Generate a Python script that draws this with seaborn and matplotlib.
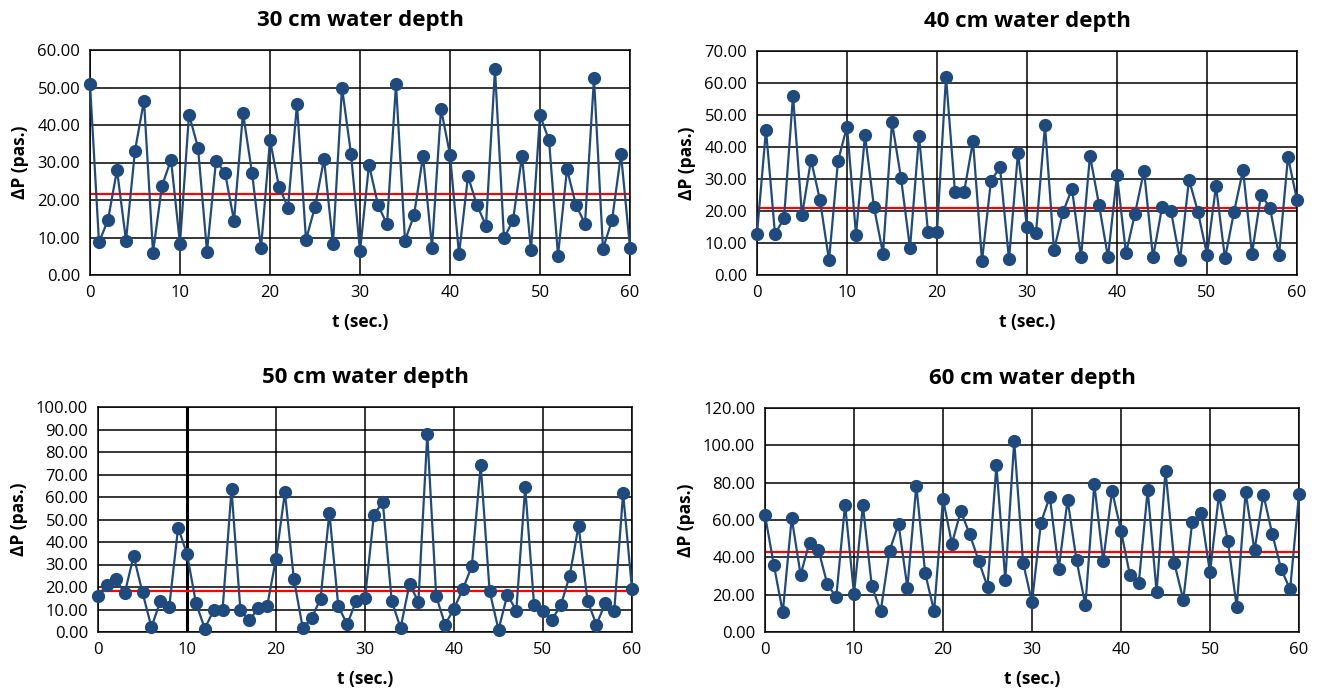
import numpy as np
import pandas as pd
import matplotlib
matplotlib.use("Agg")
import matplotlib.pyplot as plt
from matplotlib.ticker import FormatStrFormatter, MultipleLocator
import seaborn as sns

t = list(range(61))

dp_30 = [51.0, 8.7, 14.7, 28.0, 9.2, 33.2, 46.5, 6.0, 23.8, 30.7,
         8.3, 42.8, 34.0, 6.2, 30.4, 27.3, 14.5, 43.2, 27.3, 7.1,
         36.0, 23.5, 18.0, 45.6, 9.4, 18.2, 30.9, 8.3, 50.0, 32.3,
         6.3, 29.4, 18.7, 13.5, 50.9, 9.2, 15.9, 31.7, 7.3, 44.3,
         32.1, 5.5, 26.3, 18.6, 13.2, 54.9, 9.8, 14.6, 31.7, 6.6,
         42.6, 36.0, 5.2, 28.2, 18.6, 13.7, 52.5, 7.0, 14.6, 32.2, 7.3]

dp_40 = [12.8, 45.4, 12.8, 17.7, 56.0, 18.6, 36.0, 23.4, 4.6, 35.6,
         46.4, 12.6, 43.7, 21.2, 6.7, 47.7, 30.3, 8.4, 43.4, 13.5,
         13.4, 62.0, 25.8, 25.8, 41.8, 4.4, 29.5, 33.6, 4.9, 38.2,
         14.9, 13.1, 46.8, 7.8, 19.7, 26.9, 5.5, 37.3, 22.0, 5.5,
         31.2, 6.8, 19.2, 32.6, 5.5, 21.1, 19.9, 4.7, 29.8, 19.7,
         6.3, 27.8, 5.2, 19.7, 32.8, 6.7, 25.1, 21.0, 6.1, 36.9, 23.4]

dp_50 = [15.9, 21.0, 23.7, 17.2, 33.8, 17.6, 2.2, 13.6, 11.0, 46.4,
         34.7, 13.0, 1.5, 9.8, 9.9, 63.4, 9.8, 5.2, 10.5, 11.4,
         32.6, 62.1, 23.7, 1.9, 6.1, 14.8, 52.9, 11.4, 3.4, 13.8,
         15.0, 52.1, 57.8, 13.8, 1.8, 21.3, 13.5, 87.9, 15.9, 3.3,
         10.4, 19.1, 29.2, 74.2, 18.2, 1.0, 16.6, 9.5, 64.3, 11.9,
         9.5, 5.5, 11.9, 25.0, 47.3, 13.8, 3.3, 12.7, 9.2, 61.6, 19.1]

dp_60 = [62.6, 35.8, 10.5, 61.1, 30.7, 47.9, 44.0, 25.7, 18.5, 68.3,
         20.3, 67.9, 24.6, 11.2, 43.5, 57.9, 23.7, 78.4, 31.4, 11.2,
         71.3, 47.4, 64.7, 52.4, 38.3, 24.2, 89.2, 28.0, 102.3, 37.1,
         15.9, 58.5, 72.5, 33.7, 70.8, 38.5, 14.3, 79.3, 38.1, 75.6,
         54.2, 30.5, 26.4, 76.1, 21.4, 86.5, 36.7, 17.3, 58.8, 63.5,
         31.9, 73.3, 48.8, 13.4, 75.0, 43.7, 73.6, 52.4, 33.7, 22.8, 74.0]

titles = ["30 cm water depth", "40 cm water depth", "50 cm water depth", "60 cm water depth"]
series = [dp_30, dp_40, dp_50, dp_60]
mean_lines = [21.5, 20.9, 18.2, 43.1]
y_max = [60, 70, 100, 120]
y_step = [10, 10, 10, 20]

sns.set_style("white")
plt.rcParams["font.family"] = ["Open Sans", "DejaVu Sans"]
plt.rcParams["text.color"] = "black"
plt.rcParams["axes.labelcolor"] = "black"
plt.rcParams["xtick.color"] = "black"
plt.rcParams["ytick.color"] = "black"

fig = plt.figure(figsize=(13.18, 6.91), dpi=100)
W, H = 1318, 691
boxes = [(90, 50, 630, 275), (757, 51, 1297, 275),
         (98, 407, 632, 632), (765, 408, 1299, 632)]

for i in range(4):
    x0, y0, x1, y1 = boxes[i]
    ax = fig.add_axes([x0 / W, 1 - y1 / H, (x1 - x0) / W, (y1 - y0) / H])
    df = pd.DataFrame({"t": t, "dp": series[i]})
    ax.axhline(mean_lines[i], color="#ff0000", lw=1.6, zorder=2)
    sns.lineplot(data=df, x="t", y="dp", ax=ax, color="#1f4a7d", lw=1.6,
                 marker="o", markersize=9.5, markeredgewidth=0, zorder=3,
                 clip_on=False)
    if i == 2:
        ax.axvline(10, color="black", lw=2.2, zorder=1)
    ax.set_xlim(0, 60)
    ax.set_ylim(0, y_max[i])
    ax.xaxis.set_major_locator(MultipleLocator(10))
    ax.yaxis.set_major_locator(MultipleLocator(y_step[i]))
    ax.yaxis.set_major_formatter(FormatStrFormatter("%.2f"))
    ax.grid(True, color="black", lw=1.1, zorder=1)
    ax.set_axisbelow(True)
    for s in ax.spines.values():
        s.set_color("black")
        s.set_linewidth(1.1)
    ax.tick_params(labelsize=12, length=0, pad=7)
    ax.set_xlabel("t (sec.)", fontsize=12.5, fontweight="bold", labelpad=9)
    ax.set_ylabel("ΔP (pas.)", fontsize=12.5, fontweight="bold", labelpad=6)
    ax.set_title(titles[i], fontsize=16, fontweight="bold", pad=17)

fig.savefig("out.png", dpi=100)
